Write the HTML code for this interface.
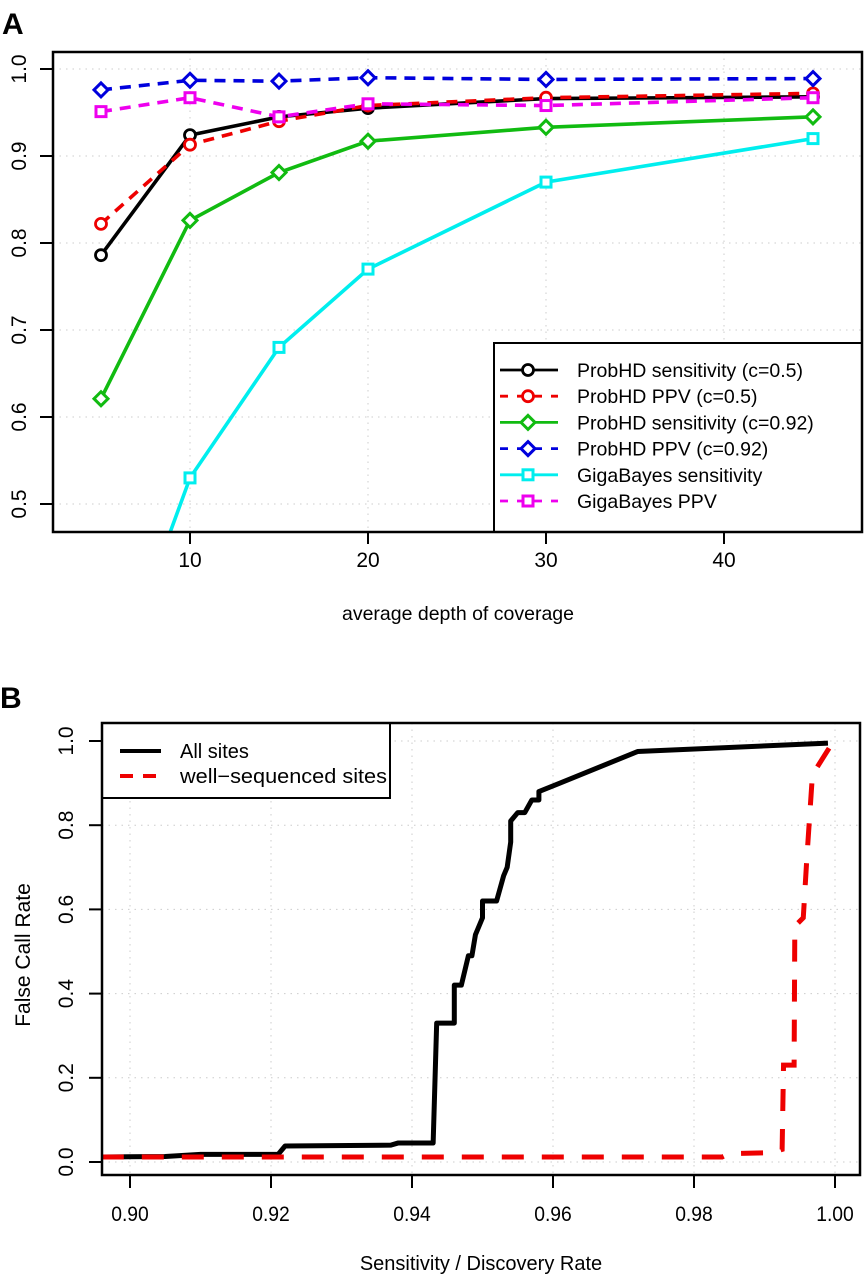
<!DOCTYPE html>
<html><head><meta charset="utf-8"><style>
body{margin:0;background:#fff}
svg{display:block;font-family:"Liberation Sans",Arial,sans-serif}
</style></head><body>
<svg id="s" width="866" height="1280" viewBox="0 0 866 1280">
<text x="2" y="34" font-size="30" font-weight="bold">A</text>
<text x="0" y="708" font-size="30" font-weight="bold">B</text>
<g id="ga"></g>
<g id="gb"></g>
</svg>
<script>
const depths=[5,10,15,20,30,45];
const probSens05=[0.786,0.924,0.945,0.955,0.966,0.968];
const probPPV05=[0.822,0.913,0.940,0.958,0.967,0.972];
const probSens092=[0.621,0.826,0.881,0.917,0.933,0.945];
const probPPV092=[0.976,0.987,0.986,0.990,0.988,0.989];
const gigaSens=[0.25,0.530,0.680,0.770,0.870,0.920];
const gigaPPV=[0.951,0.967,0.945,0.960,0.958,0.967];
const xTicksA=[10,20,30,40];
const yTicksA=[0.5,0.6,0.7,0.8,0.9,1.0];
const legendA=["ProbHD sensitivity (c=0.5)","ProbHD PPV (c=0.5)","ProbHD sensitivity (c=0.92)","ProbHD PPV (c=0.92)","GigaBayes sensitivity","GigaBayes PPV"];

const allX=[0.896,0.905,0.910,0.921,0.922,0.937,0.938,0.943,0.9435,0.946,0.946,0.947,0.948,0.9485,0.949,0.950,0.950,0.952,0.953,0.9535,0.954,0.954,0.955,0.956,0.957,0.958,0.958,0.961,0.972,0.999];
const allY=[0.012,0.013,0.018,0.018,0.038,0.040,0.045,0.045,0.33,0.33,0.42,0.42,0.49,0.49,0.54,0.58,0.62,0.62,0.68,0.70,0.76,0.81,0.83,0.83,0.86,0.86,0.88,0.90,0.975,0.995];
const wellX=[0.896,0.984,0.985,0.991,0.9925,0.9927,0.9942,0.9943,0.9955,0.9960,0.9968,0.9998];
const wellY=[0.012,0.012,0.02,0.022,0.03,0.23,0.23,0.56,0.58,0.72,0.92,1.0];
const xTicksB=[0.90,0.92,0.94,0.96,0.98,1.00];
const yTicksB=[0.0,0.2,0.4,0.6,0.8,1.0];

const NS="http://www.w3.org/2000/svg";
function mk(p,t,a){const e=document.createElementNS(NS,t);for(const k in a)e.setAttribute(k,a[k]);p.appendChild(e);return e;}

// ---- Panel A ----
const ga=document.getElementById('ga');
const A={l:53,r:862,t:52,b:532};
const xa=v=>190+(v-10)*17.8;
const ya=v=>69+(1.0-v)*870;
const cpa=mk(ga,'clipPath',{id:'ca'});mk(cpa,'rect',{x:A.l,y:A.t,width:A.r-A.l,height:A.b-A.t});
xTicksA.forEach(v=>{
 const g=mk(ga,'line',{x1:xa(v),x2:xa(v),y1:A.t,y2:A.b,stroke:'#ccc','stroke-dasharray':'1.5 5'});
 
 const t=mk(ga,'line',{x1:xa(v),x2:xa(v),y1:A.b,y2:A.b+12,stroke:'#000','stroke-width':2});
 
 const l=mk(ga,'text',{x:xa(v),y:A.b+35,'font-size':21,'text-anchor':'middle'});l.textContent=v;
 
});
yTicksA.forEach(v=>{
 const g=mk(ga,'line',{x1:A.l,x2:A.r,y1:ya(v),y2:ya(v),stroke:'#ccc','stroke-dasharray':'1.5 5'});
 
 const t=mk(ga,'line',{x1:A.l-13,x2:A.l,y1:ya(v),y2:ya(v),stroke:'#000','stroke-width':2});
 
 const l=mk(ga,'text',{x:0,y:0,'font-size':21,'text-anchor':'middle',transform:`translate(26,${ya(v)}) rotate(-90)`});l.textContent=v.toFixed(1);
 
});
const seriesA=[
 {v:probSens05,c:'#000',d:'',m:'circle',n:'probhd-sens-05'},
 {v:probPPV05,c:'#e00',d:'11 8',m:'circle',n:'probhd-ppv-05'},
 {v:probSens092,c:'#1b1',d:'',m:'diamond',n:'probhd-sens-092'},
 {v:probPPV092,c:'#00d',d:'11 8',m:'diamond',n:'probhd-ppv-092'},
 {v:gigaSens,c:'#0ee',d:'',m:'square',n:'gigabayes-sens'},
 {v:gigaPPV,c:'#e0e',d:'11 8',m:'square',n:'gigabayes-ppv'}];
function marker(p,type,x,y,c){
 let e;
 if(type==='circle')e=mk(p,'circle',{cx:x,cy:y,r:5.5,fill:'#fff',stroke:c,'stroke-width':2.8});
 else if(type==='diamond')e=mk(p,'polygon',{points:`${x},${y-7} ${x+7},${y} ${x},${y+7} ${x-7},${y}`,fill:'#fff',stroke:c,'stroke-width':3});
 else e=mk(p,'rect',{x:x-5,y:y-5,width:10,height:10,fill:'#fff',stroke:c,'stroke-width':3});
 return e;
}
seriesA.forEach(s=>{
 const g=mk(ga,'g',{'clip-path':'url(#ca)'});
 
 const pts=depths.map((d,i)=>xa(d)+','+ya(s.v[i])).join(' ');
 const pl=mk(g,'polyline',{points:pts,fill:'none',stroke:s.c,'stroke-width':3.6,'stroke-dasharray':s.d});
 
 depths.forEach((d,i)=>{const m=marker(g,s.m,xa(d),ya(s.v[i]),s.c);
  });
});
const lgA=mk(ga,'g',{});

mk(lgA,'rect',{x:494,y:343,width:368,height:189,fill:'#fff',stroke:'#000','stroke-width':2});
seriesA.forEach((s,i)=>{
 const y=370+i*26.2;
 const e=mk(lgA,'g',{});
 
 mk(e,'line',{x1:500,x2:558,y1:y,y2:y,stroke:s.c,'stroke-width':2.8,'stroke-dasharray':s.d?'8 9':''});
 marker(e,s.m,528,y,s.c);
 const t=mk(e,'text',{x:577,y:y+7,'font-size':19.5});t.textContent=legendA[i];
});
const bxA=mk(ga,'rect',{x:A.l,y:A.t,width:A.r-A.l,height:A.b-A.t,fill:'none',stroke:'#000','stroke-width':2.5});

const xlA=mk(ga,'text',{x:458,y:620,'font-size':19.5,'text-anchor':'middle'});xlA.textContent='average depth of coverage';


// ---- Panel B ----
const gb=document.getElementById('gb');
const B={l:102,r:860,t:723,b:1175};
const xb=v=>130+(v-0.90)*7050;
const yb=v=>1162-v*421;
const cpb=mk(gb,'clipPath',{id:'cb'});mk(cpb,'rect',{x:B.l,y:B.t,width:B.r-B.l,height:B.b-B.t});
xTicksB.forEach(v=>{
 const g=mk(gb,'line',{x1:xb(v),x2:xb(v),y1:B.t,y2:B.b,stroke:'#ccc','stroke-dasharray':'1.5 5'});
 
 const t=mk(gb,'line',{x1:xb(v),x2:xb(v),y1:B.b,y2:B.b+13,stroke:'#000','stroke-width':2});
 
 const l=mk(gb,'text',{x:xb(v),y:B.b+46,'font-size':21,'text-anchor':'middle',transform:`translate(${xb(v)*0.08},0) scale(0.92,1)`});l.textContent=v.toFixed(2);
 
});
yTicksB.forEach(v=>{
 const g=mk(gb,'line',{x1:B.l,x2:B.r,y1:yb(v),y2:yb(v),stroke:'#ccc','stroke-dasharray':'1.5 5'});
 
 const t=mk(gb,'line',{x1:B.l-13,x2:B.l,y1:yb(v),y2:yb(v),stroke:'#000','stroke-width':2});
 
 const l=mk(gb,'text',{x:0,y:0,'font-size':21,'text-anchor':'middle',transform:`translate(73,${yb(v)}) rotate(-90)`});l.textContent=v.toFixed(1);
 
});
const gbl=mk(gb,'g',{'clip-path':'url(#cb)'});

const la=mk(gbl,'polyline',{points:allX.map((x,i)=>xb(x)+','+yb(allY[i])).join(' '),fill:'none',stroke:'#000','stroke-width':5,'stroke-linejoin':'round'});

const lw=mk(gbl,'polyline',{points:wellX.map((x,i)=>xb(x)+','+yb(wellY[i])).join(' '),fill:'none',stroke:'#e00','stroke-width':5,'stroke-dasharray':'22 18'});

const lgB=mk(gb,'g',{});

mk(lgB,'rect',{x:B.l,y:B.t,width:288,height:75,fill:'#fff',stroke:'#000','stroke-width':2});
const e1=mk(lgB,'g',{});
mk(e1,'line',{x1:120,x2:161,y1:751,y2:751,stroke:'#000','stroke-width':4});
const t1=mk(e1,'text',{x:180,y:758,'font-size':20});t1.textContent='All sites';
const e2=mk(lgB,'g',{});
mk(e2,'line',{x1:120,x2:161,y1:776,y2:776,stroke:'#e00','stroke-width':4,'stroke-dasharray':'13 10'});
const t2=mk(e2,'text',{x:180,y:783,'font-size':20,textLength:207,lengthAdjust:'spacingAndGlyphs'});t2.textContent='well\u2212sequenced sites';
const bxB=mk(gb,'rect',{x:B.l,y:B.t,width:B.r-B.l,height:B.b-B.t,fill:'none',stroke:'#000','stroke-width':2.5});

const xlB=mk(gb,'text',{x:481,y:1270,'font-size':20,'text-anchor':'middle'});xlB.textContent='Sensitivity / Discovery Rate';

const ylB=mk(gb,'text',{x:0,y:0,'font-size':21,'text-anchor':'middle',transform:'translate(30,955) rotate(-90)'});ylB.textContent='False Call Rate';

</script>
</body></html>
